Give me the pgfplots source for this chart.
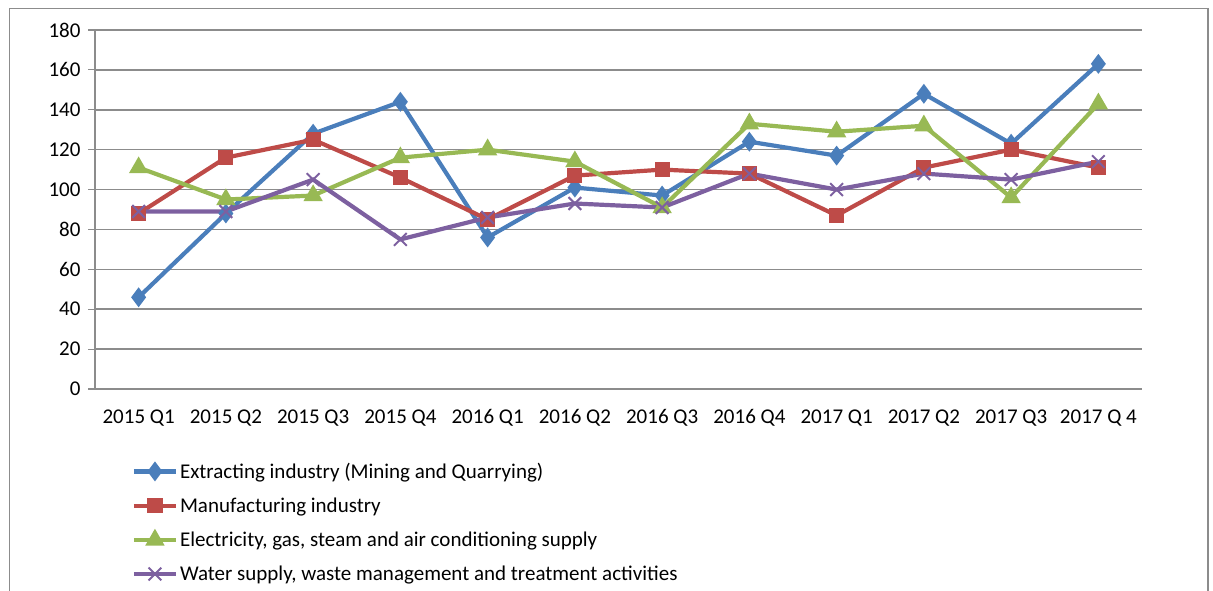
\documentclass[border=0pt]{standalone}
\usepackage{pgfplots}
\pgfplotsset{compat=1.18}
\usepackage{fontspec}
\setmainfont{Carlito}
\definecolor{cblue}{HTML}{4A7EBB}
\definecolor{cred}{HTML}{BE4B48}
\definecolor{cgreen}{HTML}{98B954}
\definecolor{cpurple}{HTML}{7D60A0}
\definecolor{cgrid}{HTML}{8C8C8C}
\begin{document}
\begin{tikzpicture}
\useasboundingbox (0,0) rectangle (1213bp,-591bp);
\draw[cgrid,line width=1.2bp] (9.5bp,-591bp) -- (9.5bp,-8.5bp) -- (1208bp,-8.5bp) -- (1208bp,-591bp);
\begin{axis}[
  at={(95bp,-30bp)}, anchor=north west,
  scale only axis, width=1047bp, height=359bp,
  xmin=-0.5, xmax=11.5, ymin=0, ymax=180,
  axis x line*=bottom, axis y line*=left,
  axis line style={cgrid,line width=1.2bp,-},
  xtick={0,...,11},
  xticklabels={2015 Q1,2015 Q2,2015 Q3,2015 Q4,2016 Q1,2016 Q2,2016 Q3,2016 Q4,2017 Q1,2017 Q2,2017 Q3,2017 Q 4},
  x tick style={draw=none},
  extra x ticks={-0.5,0.5,...,11.5},
  extra x tick labels={},
  extra x tick style={major tick length=7bp, tick align=outside, tick style={cgrid,line width=1.2bp}, grid=none},
  ytick={0,20,...,180},
  y tick style={cgrid,line width=1.2bp},
  major tick length=7bp, tick align=outside,
  ymajorgrids, grid style={cgrid,line width=1.5bp},
  tick label style={font=\fontsize{21bp}{24bp}\selectfont},
  /pgf/number format/assume math mode=true,
  xticklabel style={yshift=-10bp},
  yticklabel style={xshift=-4bp},
  legend style={at={(0.035,-0.2)}, anchor=north west, draw=none, fill=none,
    font=\fontsize{21bp}{24bp}\selectfont, row sep=14bp, inner sep=0pt,
    /tikz/every even column/.append style={column sep=1bp}},
  legend cell align=left,
  legend image code/.code={\draw[mark repeat=2,mark phase=2,#1] plot coordinates {(0bp,0bp)(21bp,0bp)(42bp,0bp)};},
  every axis plot/.append style={line width=4.2bp, mark options={solid}},
]
\addplot[cblue, mark=diamond*, mark size=6.5bp] coordinates {(0,46)(1,88)(2,128)(3,144)(4,76)(5,101)(6,97)(7,124)(8,117)(9,148)(10,123)(11,163)};
\addlegendentry{Extracting industry (Mining and Quarrying)}
\addplot[cred, mark=square*, mark size=5.5bp] coordinates {(0,88)(1,116)(2,125)(3,106)(4,85)(5,107)(6,110)(7,108)(8,87)(9,111)(10,120)(11,111)};
\addlegendentry{Manufacturing industry}
\addplot[cgreen, mark=triangle*, mark size=7bp] coordinates {(0,111)(1,95)(2,97)(3,116)(4,120)(5,114)(6,91)(7,133)(8,129)(9,132)(10,96)(11,143)};
\addlegendentry{Electricity, gas, steam and air conditioning supply}
\addplot[cpurple, mark=x, mark size=9bp, mark options={line width=2bp}] coordinates {(0,89)(1,89)(2,105)(3,75)(4,86)(5,93)(6,91)(7,108)(8,100)(9,108)(10,105)(11,114)};
\addlegendentry{Water supply, waste management and treatment activities}
\end{axis}
\end{tikzpicture}
\end{document}
